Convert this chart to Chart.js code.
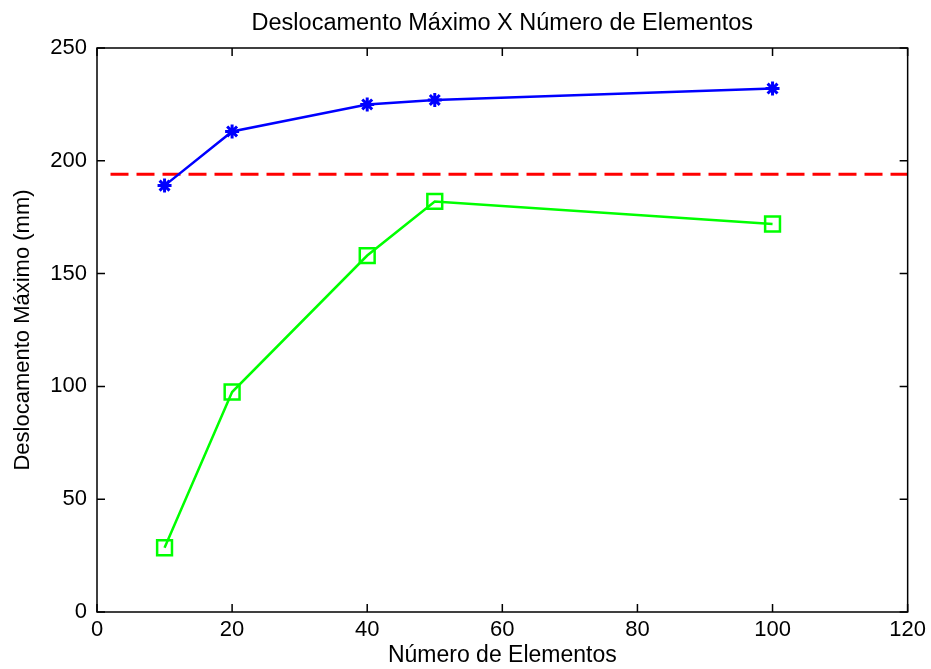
<!DOCTYPE html>
<html>
<head>
<meta charset="utf-8">
<title>Deslocamento Máximo X Número de Elementos</title>
<script src="https://cdn.jsdelivr.net/npm/chart.js@4"></script>
<style>
    html, body { margin: 0; padding: 0; background: #fff; }
    #wrap { width: 931px; height: 669px; }
</style>
</head>
<body>
<div id="wrap"><canvas id="grafico"></canvas></div>
<script>
// numero de elementos da malha
const elementos = [10, 20, 40, 50, 100];
// deslocamento maximo (mm) para cada malha
const deslocA = [189, 213, 225, 227, 232];
const deslocB = [28.5, 97.5, 158, 182, 172];
// valor de referencia (linha tracejada)
const refX = [2, 120];
const refY = 194;

const xTicks = [0, 20, 40, 60, 80, 100, 120];
const yTicks = [0, 50, 100, 150, 200, 250];

const fonte = "'Liberation Sans', Arial, sans-serif";
Chart.defaults.font.family = fonte;
Chart.defaults.color = '#000';

const pares = (xs, ys) => xs.map((x, i) => ({x: x, y: ys[i]}));

// moldura completa e ticks para dentro, como no matlab
const moldura = {
    id: 'moldura',
    afterDraw(chart) {
        const {ctx, chartArea: a, scales} = chart;
        const t = 8;
        ctx.save();
        ctx.strokeStyle = '#000';
        ctx.lineWidth = 1.5;
        ctx.strokeRect(a.left, a.top, a.right - a.left, a.bottom - a.top);
        ctx.beginPath();
        xTicks.forEach(v => {
            const px = scales.x.getPixelForValue(v);
            ctx.moveTo(px, a.bottom); ctx.lineTo(px, a.bottom - t);
            ctx.moveTo(px, a.top); ctx.lineTo(px, a.top + t);
        });
        yTicks.forEach(v => {
            const py = scales.y.getPixelForValue(v);
            ctx.moveTo(a.left, py); ctx.lineTo(a.left + t, py);
            ctx.moveTo(a.right, py); ctx.lineTo(a.right - t, py);
        });
        ctx.stroke();
        ctx.restore();
    }
};

const ctx = document.getElementById('grafico');
new Chart(ctx, {
    type: 'line',
    data: {
        datasets: [{
                data: pares(elementos, deslocA),
                borderColor: '#0000ff',
                backgroundColor: '#0000ff',
                borderWidth: 2.5,
                pointStyle: 'star',
                pointRadius: 7,
                pointBorderWidth: 3,
                pointBorderColor: '#0000ff'
            }, {
                data: pares(elementos, deslocB),
                borderColor: '#00ff00',
                backgroundColor: 'rgba(0,0,0,0)',
                borderWidth: 2.5,
                pointStyle: 'rect',
                pointRadius: 10.5,
                pointBorderWidth: 2.5,
                pointBorderColor: '#00ff00'
            }, {
                data: refX.map(x => ({x: x, y: refY})),
                borderColor: '#ff0000',
                borderWidth: 3,
                borderDash: [18, 8],
                pointRadius: 0
            }]
    },
    options: {
        responsive: true,
        maintainAspectRatio: false,
        animation: false,
        layout: {
            padding: {left: 0, right: 21, top: 0, bottom: 0}
        },
        plugins: {
            legend: {display: false},
            tooltip: {enabled: false},
            title: {
                display: true,
                fullSize: false,
                text: 'Deslocamento Máximo X Número de Elementos',
                font: {size: 23.5, weight: 'normal', lineHeight: 1.2},
                color: '#000',
                padding: {top: 9, bottom: 10.8}
            }
        },
        scales: {
            x: {
                type: 'linear',
                min: 0,
                max: 120,
                afterBuildTicks: s => { s.ticks = xTicks.map(v => ({value: v})); },
                afterFit: s => { s.height = 57; },
                ticks: {font: {size: 22}, padding: 5, maxRotation: 0},
                grid: {display: false, drawTicks: false},
                border: {display: false},
                title: {
                    display: true,
                    text: 'Número de Elementos',
                    font: {size: 23, lineHeight: 1.2},
                    padding: {top: 0, bottom: 0}
                }
            },
            y: {
                min: 0,
                max: 250,
                afterBuildTicks: s => { s.ticks = yTicks.map(v => ({value: v})); },
                afterFit: s => { s.width = 97; },
                ticks: {font: {size: 22}, padding: 10},
                grid: {display: false, drawTicks: false},
                border: {display: false},
                title: {
                    display: true,
                    text: 'Deslocamento Máximo (mm)',
                    font: {size: 22, lineHeight: 1.2},
                    padding: {top: 9.8, bottom: 0}
                }
            }
        }
    },
    plugins: [moldura]
});
</script>
</body>
</html>
